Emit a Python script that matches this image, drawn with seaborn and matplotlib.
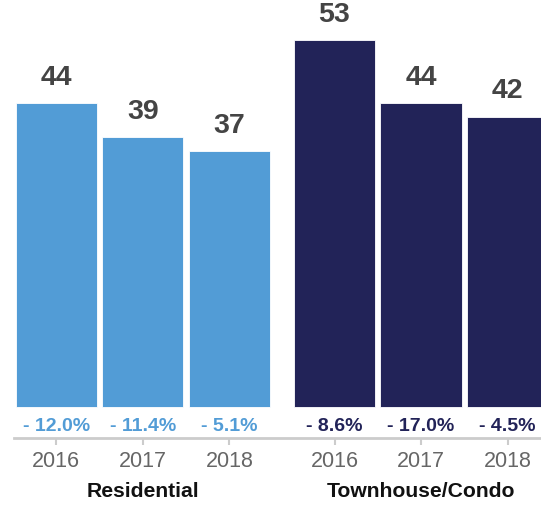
import matplotlib
matplotlib.use("Agg")
import matplotlib.pyplot as plt
import matplotlib.transforms as mtransforms
import seaborn as sns
import pandas as pd

# Average days on market by property type and year
groups = ["Residential", "Townhouse/Condo"]
years = ["2016", "2017", "2018"]
residential = [44, 39, 37]
townhouse = [53, 44, 42]
residential_change = ["- 12.0%", "- 11.4%", "- 5.1%"]
townhouse_change = ["- 8.6%", "- 17.0%", "- 4.5%"]

colors = {"Residential": "#529cd6", "Townhouse/Condo": "#222358"}
group_step = 3.216  # offset between the two groups, in bar slots

rows = []
for g, (vals, chg) in enumerate([(residential, residential_change),
                                 (townhouse, townhouse_change)]):
    for i, (yr, v, c) in enumerate(zip(years, vals, chg)):
        rows.append({"group": groups[g], "year": yr, "value": v,
                     "change": c, "pos": g * group_step + i})
df = pd.DataFrame(rows)

sns.set_theme(style="white")
plt.rcParams["font.family"] = ["Liberation Sans", "DejaVu Sans"]

fig = plt.figure(figsize=(5.41, 5.06), dpi=100)
ax = fig.add_axes([14 / 541, 67 / 506, 527 / 541, 439 / 506])

sns.barplot(data=df, x="pos", y="value", hue="group", palette=colors,
            native_scale=True, dodge=False, width=0.94, legend=False,
            saturation=1, edgecolor="white", linewidth=0.6, ax=ax)

ax.set_xlim(-0.489, 5.603)
ax.set_ylim(-4.48, 59.0)

for _, r in df.iterrows():
    ax.text(r["pos"], r["value"] + 1.9, f"{r['value']}", ha="center",
            va="bottom", fontsize=20.5, fontweight="bold", color="#444444")
    ax.text(r["pos"], -2.74, r["change"], ha="center", va="center",
            fontsize=14, fontweight="bold", color=colors[r["group"]])

ax.set_xticks(df["pos"])
ax.set_xticklabels(df["year"], fontsize=15.5, color="#666666")
ax.tick_params(axis="x", length=5, width=1.5, color="#cccccc", pad=4,
               bottom=True)
ax.set_yticks([])
ax.set_xlabel("")
ax.set_ylabel("")

for side in ["top", "right", "left"]:
    ax.spines[side].set_visible(False)
ax.spines["bottom"].set_color("#cccccc")
ax.spines["bottom"].set_linewidth(2)

trans = mtransforms.blended_transform_factory(ax.transData, ax.transAxes)
for g_idx, g in enumerate(groups):
    ax.annotate(g, xy=(g_idx * group_step + 1, 0), xycoords=trans,
                xytext=(0, -38), textcoords="offset points", ha="center",
                va="center", fontsize=15.2, fontweight="bold",
                color="#111111")

fig.savefig("out.png", dpi=100, facecolor="white")
